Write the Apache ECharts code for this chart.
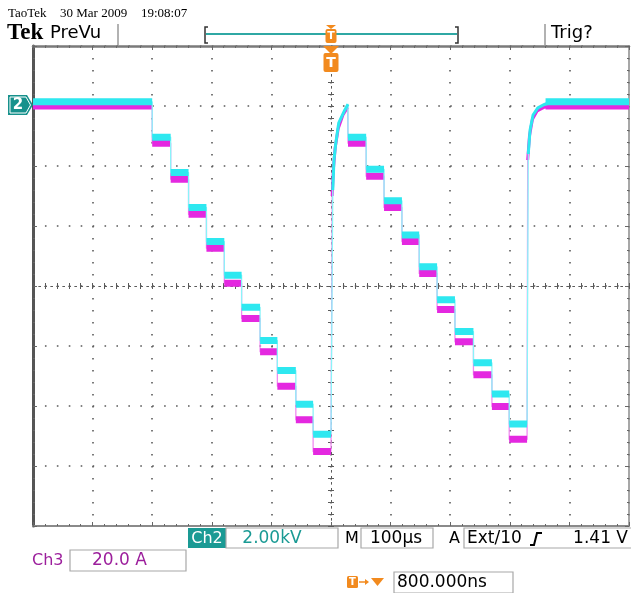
<!DOCTYPE html>
<html><head><meta charset="utf-8">
<script src="https://cdn.jsdelivr.net/npm/echarts@6/dist/echarts.min.js"></script>
<style>html,body{margin:0;padding:0;background:#fff}#c{width:631px;height:593px}</style>
</head><body><div id="c"></div>
<script>
// Horizontal: time in µs (100 µs/div, trigger at centre). Vertical: screen divisions.
const timesA = [-500, -300, -269, -239, -209, -179, -150, -119, -90, -59, -30, 0];
const ch2LevelsA = [3.07, 2.48, 1.89, 1.31, 0.74, 0.18, -0.355, -0.91, -1.41, -1.97, -2.47];
const ch3LevelsA = [3.0, 2.38, 1.78, 1.195, 0.63, 0.045, -0.54, -1.095, -1.67, -2.23, -2.76];
const ch2RiseA = [[3, 1.6], [5, 2.1], [8, 2.38], [13, 2.72], [23, 2.93], [28.5, 3.03]];
const ch3RiseA = [[2, 1.5], [4, 1.95], [7, 2.3], [12, 2.62], [20, 2.85], [28, 2.98]];
const timesB = [28.5, 59, 89, 119, 148, 178, 208, 239, 270, 299, 329];
const ch2LevelsB = [2.48, 1.945, 1.42, 0.85, 0.32, -0.23, -0.76, -1.28, -1.8, -2.3];
const ch3LevelsB = [2.38, 1.83, 1.31, 0.74, 0.21, -0.39, -0.93, -1.48, -2.01, -2.555];
const ch2RiseB = [[331, 2.2], [334, 2.6], [339, 2.85], [347, 2.97], [359, 3.03], [376, 3.07]];
const ch3RiseB = [[330, 2.1], [333, 2.5], [338, 2.78], [346, 2.92], [358, 2.98], [376, 3.0]];
const tailTimes = [360, 500];
const ch2TailLevel = 3.07;
const ch3TailLevel = 3.0;

function steps(times, levels) {
  const out = [];
  for (let i = 0; i < levels.length; i++) {
    out.push([times[i], levels[i]]);
    out.push([times[i + 1], levels[i]]);
  }
  return out;
}
function bands(times, levels) {
  const out = [];
  for (let i = 0; i < levels.length; i++) {
    out.push([times[i], levels[i]]);
    out.push([times[i + 1], levels[i]]);
    out.push([times[i + 1], '-']);
  }
  return out;
}
function path(lvA, riseA, lvB, riseB, tail) {
  return steps(timesA, lvA).concat(riseA, steps(timesB, lvB), riseB, [[tailTimes[1], tail]]);
}
function bandData(lvA, lvB, tail) {
  return bands(timesA, lvA).concat(bands(timesB, lvB), bands(tailTimes, [tail]));
}

const CYAN = '#2ee8f0', CYAN_THIN = '#8af4f8', MAG = '#e428e0', MAG_THIN = '#f08cf0';
function line(data, color, width) {
  return { type: 'line', data: data, xAxisIndex: 0, yAxisIndex: 0, showSymbol: false, symbol: 'none',
    silent: true, animation: false, connectNulls: false,
    lineStyle: { color: color, width: width, cap: 'butt', join: 'round' } };
}

const dot = '#5a5a5a';
function centerAxis(pos, isX, split) {
  return {
    type: 'value', gridIndex: 0, position: pos,
    min: isX ? -500 : -4, max: isX ? 500 : 4, interval: isX ? 100 : 1,
    axisLine: { show: true, onZero: true, onZeroAxisIndex: 0, lineStyle: { color: dot, width: 1, type: [1.5, 4.5] } },
    axisTick: { show: true, inside: true, length: 3, lineStyle: { color: dot, width: 1 } },
    minorTick: { show: true, splitNumber: 5, length: 3, lineStyle: { color: dot, width: 1 } },
    axisLabel: { show: false },
    splitLine: { show: split, lineStyle: { color: dot, width: 1.6, type: isX ? [1.6, 10.4] : [1.6, 10.32] } }
  };
}
function borderAxis(pos, isX, color, w) {
  return {
    type: 'value', gridIndex: 1, position: pos,
    min: isX ? -500 : -4, max: isX ? 500 : 4, interval: isX ? 100 : 1,
    axisLine: { show: true, onZero: false, lineStyle: { color: color, width: w } },
    axisTick: { show: true, inside: true, length: 4, lineStyle: { color: '#666', width: 1 } },
    minorTick: { show: true, splitNumber: 5, length: 2, lineStyle: { color: '#666', width: 1 } },
    axisLabel: { show: false }, splitLine: { show: false }
  };
}

const TEAL = '#1a9a94', ORANGE = '#f28a1e', PURPLE = '#9c1f9c';
const UI = '"DejaVu Sans", sans-serif';
function txt(s, x, y, font, fill, align) {
  return { type: 'text', x: x, y: y, z: 120, style: { text: s, font: font, fill: fill, align: align || 'left', verticalAlign: 'middle' } };
}
function box(x, y, w, h, fill, stroke) {
  return { type: 'rect', z: 99, shape: { x: x, y: y, width: w, height: h }, style: { fill: fill || '#fff', stroke: stroke || null, lineWidth: 1.2 } };
}

const chart = echarts.init(document.getElementById('c'), null, { renderer: 'canvas' });
chart.setOption({
  animation: false,
  backgroundColor: '#fff',
  grid: [
    { left: 33, top: 46, width: 596, height: 480 },
    { left: 33, top: 46, width: 596, height: 480 }
  ],
  xAxis: [centerAxis('bottom', true, true), centerAxis('top', true, false),
          borderAxis('bottom', true, '#8a8a8a', 2), borderAxis('top', true, '#7a7a7a', 2.5)],
  yAxis: [centerAxis('left', false, true), centerAxis('right', false, false),
          borderAxis('left', false, '#555', 3), borderAxis('right', false, '#8a8a8a', 1.5)],
  series: [
    line(path(ch3LevelsA, ch3RiseA, ch3LevelsB, ch3RiseB, ch3TailLevel), MAG_THIN, 1.3),
    line(ch3RiseA, MAG, 3),
    line(ch3RiseB, MAG, 3),
    line(bandData(ch3LevelsA, ch3LevelsB, ch3TailLevel), MAG, 7),
    line(path(ch2LevelsA, ch2RiseA, ch2LevelsB, ch2RiseB, ch2TailLevel), CYAN_THIN, 1.3),
    line(ch2RiseA, CYAN, 3),
    line(ch2RiseB, CYAN, 3),
    line(bandData(ch2LevelsA, ch2LevelsB, ch2TailLevel), CYAN, 7)
  ],
  graphic: [
    txt('TaoTek', 8, 14, '13px "Liberation Serif", serif', '#000'),
    txt('30 Mar 2009', 60, 14, '13px "Liberation Serif", serif', '#000'),
    txt('19:08:07', 141, 14, '13px "Liberation Serif", serif', '#000'),
    txt('Tek', 7, 33, 'bold 23px "Liberation Serif", serif', '#000'),
    txt('PreVu', 50, 33, '18px ' + UI, '#000'),
    { type: 'line', z: 100, shape: { x1: 118, y1: 24, x2: 118, y2: 45 }, style: { stroke: '#999', lineWidth: 1.5 } },
    { type: 'line', z: 100, shape: { x1: 545, y1: 24, x2: 545, y2: 45 }, style: { stroke: '#999', lineWidth: 1.5 } },
    txt('Trig?', 551, 33, '18px ' + UI, '#000'),
    { type: 'polyline', z: 100, shape: { points: [[208, 27], [205, 27], [205, 43], [208, 43]] }, style: { stroke: '#333', lineWidth: 1.5, fill: null } },
    { type: 'polyline', z: 100, shape: { points: [[455, 27], [458, 27], [458, 43], [455, 43]] }, style: { stroke: '#333', lineWidth: 1.5, fill: null } },
    { type: 'line', z: 100, shape: { x1: 206, y1: 34, x2: 457, y2: 34 }, style: { stroke: '#2fa8a4', lineWidth: 2 } },
    // trigger markers
    { type: 'polygon', z: 101, shape: { points: [[326, 25], [336, 25], [331, 29]] }, style: { fill: ORANGE } },
    { type: 'rect', z: 101, shape: { x: 325.5, y: 29, width: 11, height: 14, r: 2 }, style: { fill: ORANGE } },
    txt('T', 331, 36.5, 'bold 11px ' + UI, '#fff', 'center'),
    { type: 'polygon', z: 101, shape: { points: [[323, 46], [339, 46], [331, 54]] }, style: { fill: ORANGE } },
    { type: 'rect', z: 101, shape: { x: 323.5, y: 53, width: 15, height: 19, r: 2 }, style: { fill: ORANGE } },
    txt('T', 331, 63, 'bold 14px ' + UI, '#fff', 'center'),
    // channel 2 ground marker
    { type: 'polygon', z: 101, shape: { points: [[8, 95], [27, 95], [33, 105], [27, 115], [8, 115]] }, style: { fill: '#17918c' } },
    { type: 'polygon', z: 102, shape: { points: [[10, 97], [26, 97], [30.5, 105], [26, 113], [10, 113]] }, style: { fill: null, stroke: '#fff', lineWidth: 1 } },
    txt('2', 18, 105.5, 'bold 15px ' + UI, '#fff', 'center'),
    // bottom readouts
    box(188, 528, 38, 20, TEAL),
    txt('Ch2', 207, 538.5, '16px ' + UI, '#fff', 'center'),
    box(226, 528, 112, 20, '#fff', '#a8a8a8'),
    txt('2.00kV', 272, 538.5, '17px ' + UI, TEAL, 'center'),
    txt('M', 345, 538.5, '16px ' + UI, '#000'),
    box(361, 528, 72, 20, '#fff', '#a8a8a8'),
    txt('100µs', 396, 538.5, '17px ' + UI, '#000', 'center'),
    txt('A', 449, 538.5, '16px ' + UI, '#000'),
    box(464, 528, 170, 20, '#fff', '#a8a8a8'),
    txt('Ext/10', 467, 538.5, '17px ' + UI, '#000'),
    { type: 'polyline', z: 101, shape: { points: [[530, 545], [534, 545], [537, 533], [542, 533]] }, style: { stroke: '#000', lineWidth: 2, fill: null } },
    txt('1.41 V', 628, 538.5, '17px ' + UI, '#000', 'right'),
    txt('Ch3', 32, 561, '16px ' + UI, PURPLE),
    box(70, 550, 116, 21, '#fff', '#a8a8a8'),
    txt('20.0 A', 92, 561, '17px ' + UI, PURPLE),
    { type: 'rect', z: 101, shape: { x: 347, y: 576, width: 11, height: 12, r: 1.5 }, style: { fill: ORANGE } },
    txt('T', 352.5, 582.5, 'bold 10px ' + UI, '#fff', 'center'),
    { type: 'line', z: 101, shape: { x1: 359, y1: 582, x2: 366, y2: 582 }, style: { stroke: ORANGE, lineWidth: 1.5 } },
    { type: 'polygon', z: 101, shape: { points: [[365, 579], [369, 582], [365, 585]] }, style: { fill: ORANGE } },
    { type: 'polygon', z: 101, shape: { points: [[371, 578], [384, 578], [377.5, 586]] }, style: { fill: ORANGE } },
    box(394, 572, 119, 21, '#fff', '#a8a8a8'),
    txt('800.000ns', 397, 582.5, '17px ' + UI, '#000')
  ]
});
</script>
</body></html>
